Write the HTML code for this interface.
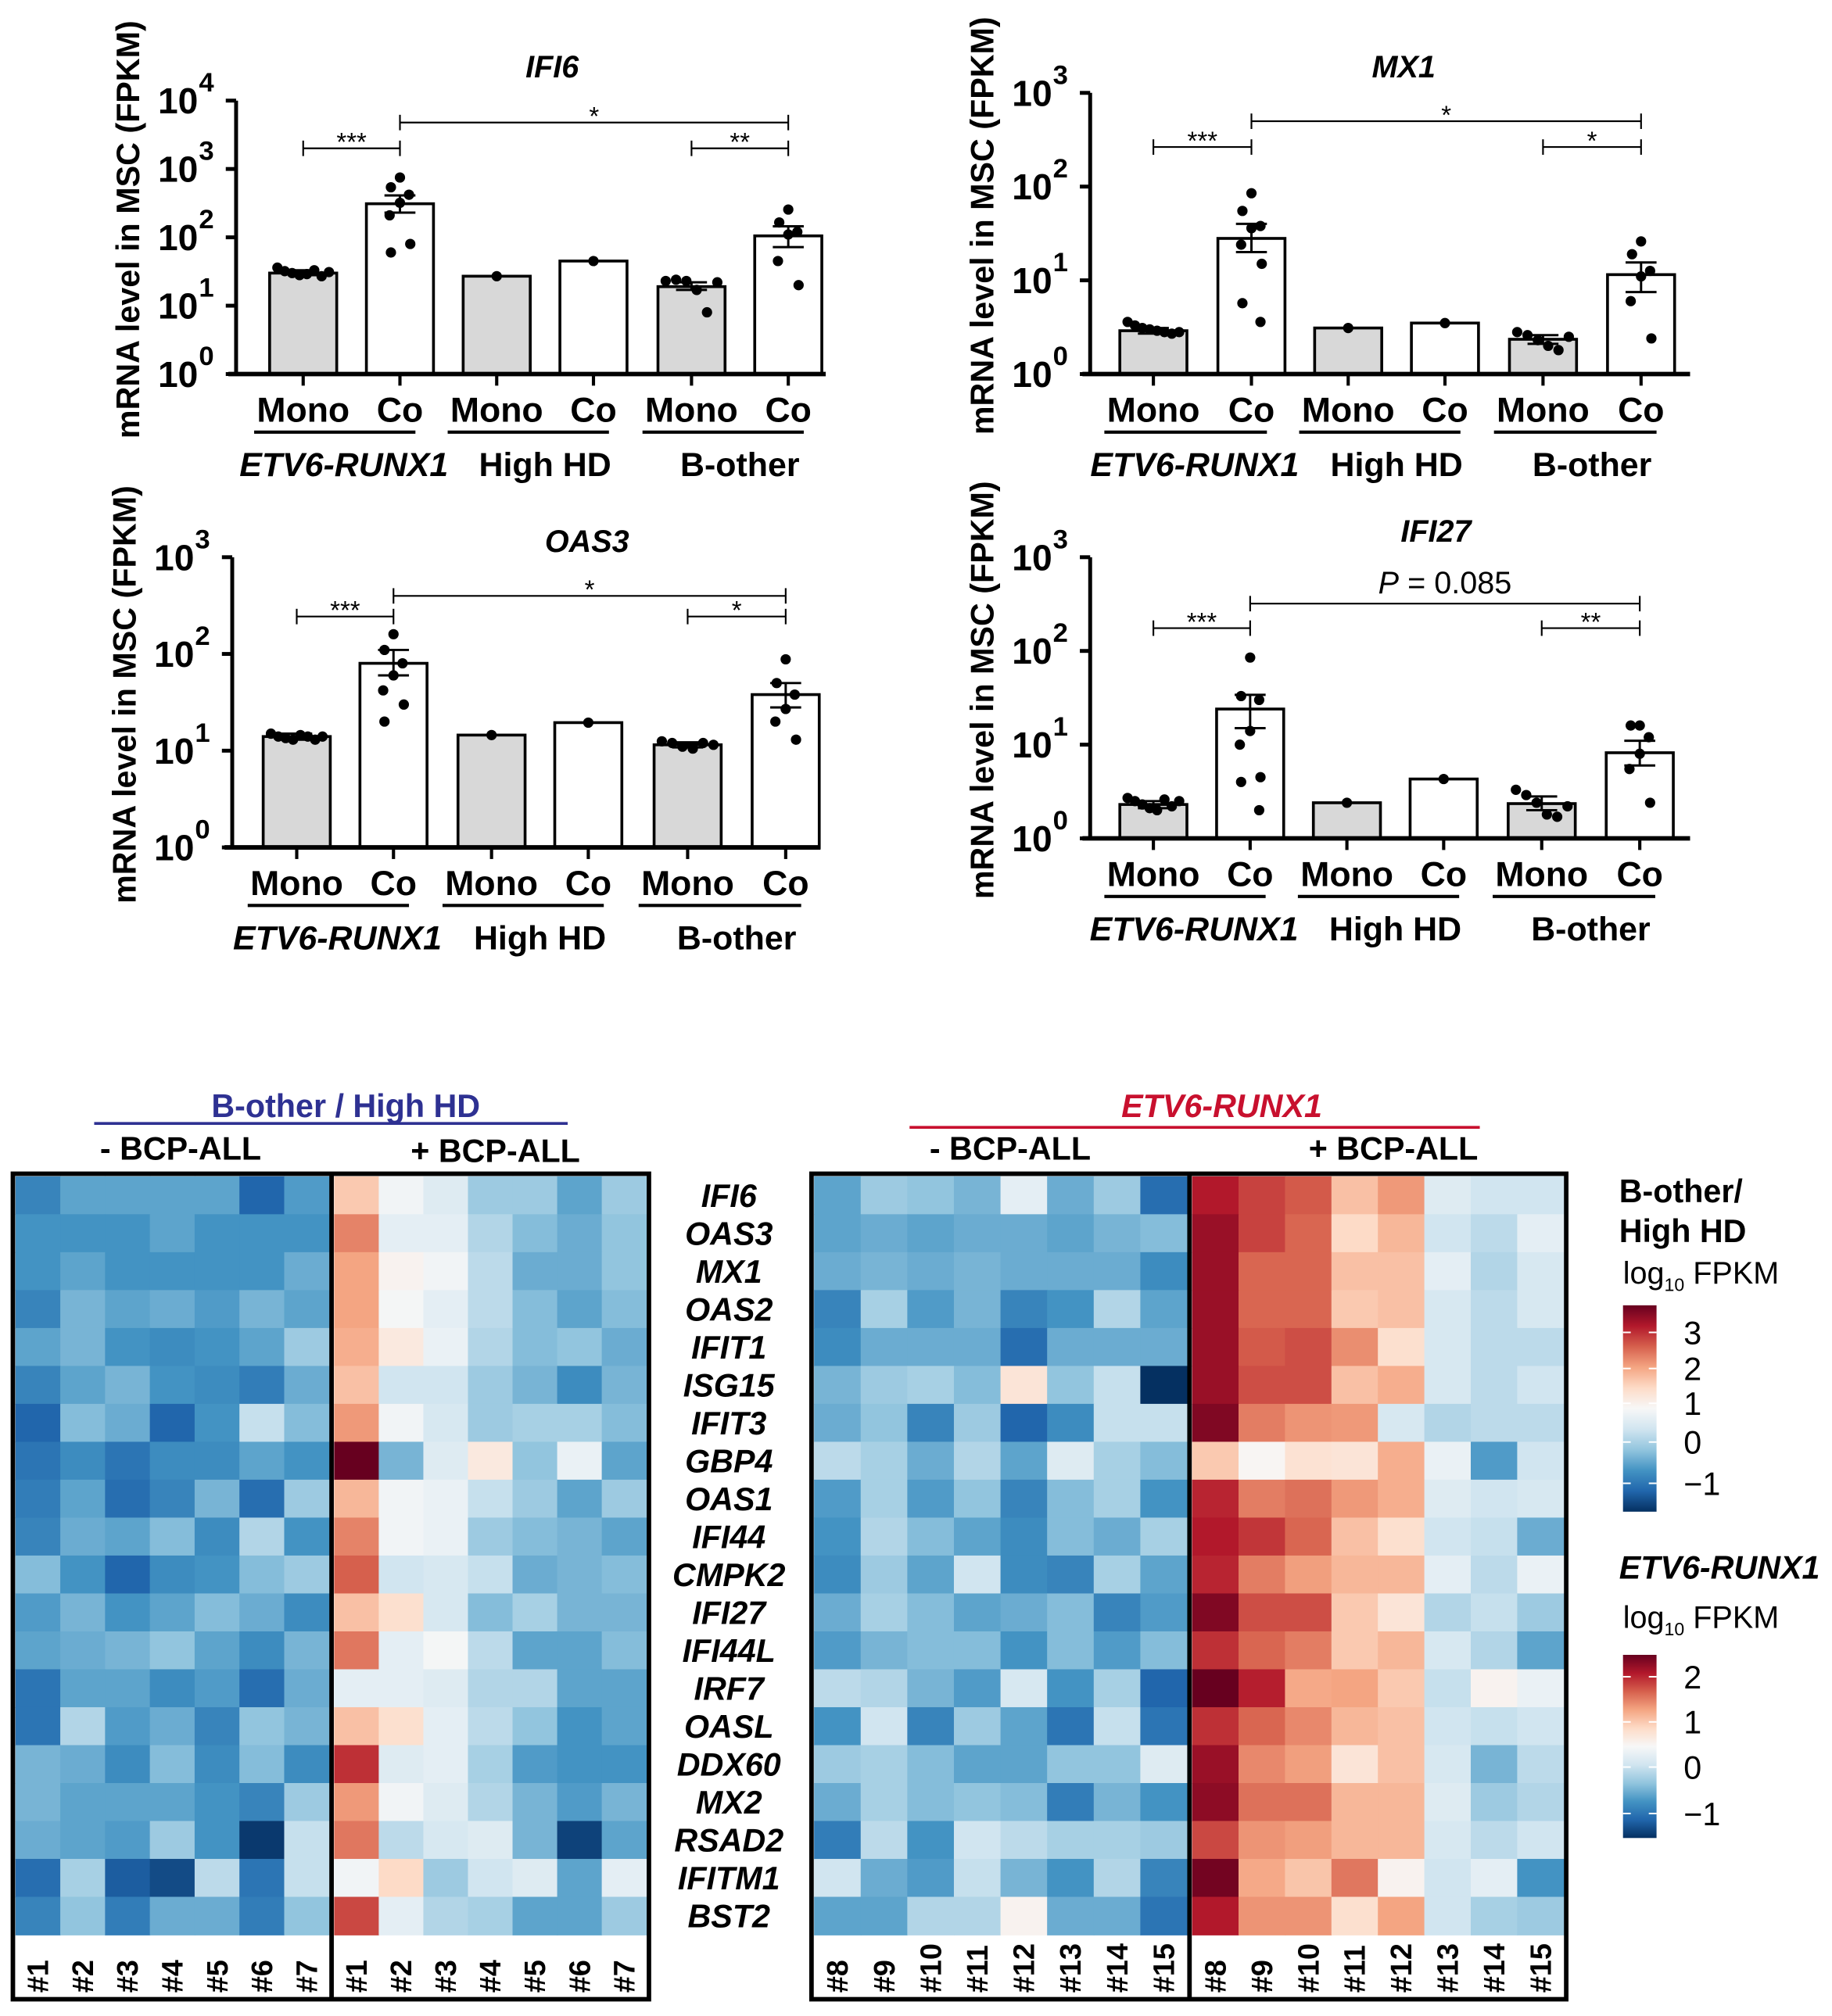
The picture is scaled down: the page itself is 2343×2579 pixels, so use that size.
<!DOCTYPE html>
<html><head><meta charset="utf-8"><style>
html,body{margin:0;padding:0;background:#fff}
svg{display:block}
text{font-family:"Liberation Sans",sans-serif}
</style></head><body>
<svg id="fig" width="2343" height="2579" viewBox="0 0 1420 1563" preserveAspectRatio="none" xmlns="http://www.w3.org/2000/svg"></svg>
<script>
// ---------- bar chart data ----------
const groups = ["Mono","Co","Mono","Co","Mono","Co"];
const groupLabels = ["ETV6-RUNX1","High HD","B-other"];
const ifi6Bars = [30, 310, 27, 45, 19, 105];
const ifi6Err = [[28,33],[230,410],null,null,[17,22],[72,145]];
const ifi6Dots = [[36,32,30,28,29,33,27,31],[750,540,420,320,210,80,60],[27],[45],[23,24,23,17,8,22],[255,165,120,110,45,20]];
const mx1Bars = [2.9, 28, 3.1, 3.5, 2.35, 11.5];
const mx1Err = [[2.7,3.1],[20,40],null,null,[2.1,2.6],[7.5,15.5]];
const mx1Dots = [[3.6,3.3,3.1,3.0,2.9,2.8,2.7,2.8],[85,55,38,36,24,15,5.7,3.6],[3.1],[3.5],[2.8,2.6,2.3,2.0,1.8,2.5],[26,19,12.6,11,6,2.4]];
const oas3Bars = [14, 80, 14.5, 19.5, 11.5, 38];
const oas3Err = [[13,15],[60,110],null,null,[10.8,12.2],[28,50]];
const oas3Dots = [[15,14,13.5,13,14.5,14,13,14],[160,110,80,60,42,30,20],[14.5],[19.5],[12.5,12,11,10.5,12,11.5],[88,50,38,27,20,13]];
const ifi27Bars = [2.3, 24, 2.4, 4.3, 2.35, 8.2];
const ifi27Err = [[2.1,2.5],[15,34],null,null,[2.0,2.8],[6,11]];
const ifi27Dots = [[2.7,2.5,2.3,2.1,2.0,2.6,2.2,2.5],[85,33,30,14,10,4.5,4.0,2.0],[2.4],[4.3],[3.3,2.9,2.4,1.8,1.7,2.2],[16,16,12,8,5.5,2.4]];

// ---------- heatmap data ----------
const genes = ["IFI6","OAS3","MX1","OAS2","IFIT1","ISG15","IFIT3","GBP4","OAS1","IFI44","CMPK2","IFI27","IFI44L","IRF7","OASL","DDX60","MX2","RSAD2","IFITM1","BST2"];
const leftCols = ["#1","#2","#3","#4","#5","#6","#7"];
const rightCols = ["#8","#9","#10","#11","#12","#13","#14","#15"];
const hmBoMinus = [
[-2.0,-1.6,-1.6,-1.6,-1.6,-2.4,-1.7],[-1.8,-1.8,-1.8,-1.6,-1.8,-1.8,-1.8],[-1.8,-1.6,-1.8,-1.8,-1.8,-1.8,-1.5],
[-2.0,-1.4,-1.6,-1.5,-1.7,-1.4,-1.6],[-1.6,-1.4,-1.8,-1.9,-1.8,-1.6,-1.1],[-2.0,-1.6,-1.4,-1.8,-1.9,-2.1,-1.5],
[-2.4,-1.3,-1.5,-2.4,-1.8,-0.7,-1.3],[-2.2,-1.9,-2.2,-1.9,-1.9,-1.6,-1.8],[-2.1,-1.6,-2.3,-2.0,-1.4,-2.3,-1.1],
[-2.0,-1.5,-1.6,-1.3,-1.9,-0.9,-1.8],[-1.3,-1.8,-2.4,-1.9,-1.8,-1.3,-1.1],[-1.7,-1.4,-1.8,-1.6,-1.3,-1.5,-1.9],
[-1.6,-1.5,-1.4,-1.2,-1.6,-1.9,-1.4],[-2.2,-1.6,-1.6,-1.9,-1.7,-2.3,-1.5],[-2.2,-0.9,-1.7,-1.5,-2.0,-1.2,-1.4],
[-1.4,-1.5,-1.9,-1.3,-1.9,-1.3,-1.9],[-1.4,-1.6,-1.6,-1.6,-1.8,-2.0,-1.1],[-1.5,-1.6,-1.7,-1.1,-1.8,-2.9,-0.7],
[-2.3,-1.0,-2.5,-2.7,-0.8,-2.2,-0.7],[-2.0,-1.2,-2.1,-1.5,-1.5,-2.1,-1.2]];
const hmBoPlus = [
[0.8,-0.1,-0.4,-1.1,-1.1,-1.6,-1.1],[1.5,-0.3,-0.3,-0.9,-1.3,-1.5,-1.2],[1.2,0.1,-0.1,-0.8,-1.5,-1.5,-1.2],
[1.2,-0.05,-0.3,-0.8,-1.3,-1.6,-1.3],[1.1,0.3,-0.2,-0.9,-1.3,-1.2,-1.5],[0.9,-0.6,-0.6,-1.1,-1.4,-1.9,-1.4],
[1.3,-0.1,-0.5,-1.1,-1.0,-1.0,-1.3],[3.0,-1.4,-0.4,0.3,-1.2,-0.2,-1.6],[1.0,-0.1,-0.2,-0.7,-1.1,-1.6,-1.1],
[1.5,-0.1,-0.2,-1.1,-1.3,-1.4,-1.6],[1.8,-0.6,-0.5,-0.7,-1.5,-1.4,-1.3],[0.9,0.5,-0.5,-1.3,-1.0,-1.4,-1.4],
[1.6,-0.3,-0.05,-0.8,-1.6,-1.6,-1.3],[-0.3,-0.3,-0.4,-0.9,-0.9,-1.6,-1.6],[0.9,0.5,-0.3,-0.8,-1.2,-1.8,-1.6],
[2.2,-0.4,-0.3,-1.0,-1.7,-1.8,-1.8],[1.3,-0.1,-0.4,-0.9,-1.4,-1.7,-1.4],[1.6,-0.8,-0.5,-0.4,-1.4,-2.8,-1.6],
[-0.1,0.6,-1.1,-0.6,-0.4,-1.6,-0.3],[2.0,-0.3,-0.9,-1.0,-1.6,-1.6,-1.1]];
const hmErMinus = [
[-1.6,-1.1,-1.2,-1.4,-0.3,-1.5,-1.1,-2.3],[-1.6,-1.5,-1.6,-1.5,-1.5,-1.6,-1.4,-1.3],[-1.5,-1.4,-1.5,-1.4,-1.5,-1.5,-1.5,-1.9],
[-2.0,-1.0,-1.7,-1.4,-2.0,-1.8,-0.9,-1.6],[-1.9,-1.5,-1.5,-1.5,-2.3,-1.5,-1.5,-1.5],[-1.4,-1.1,-1.0,-1.3,0.4,-1.2,-0.7,-3.0],
[-1.5,-1.2,-2.0,-1.1,-2.4,-1.9,-0.7,-0.7],[-0.8,-1.0,-1.5,-0.9,-1.6,-0.4,-1.0,-1.3],[-1.7,-1.0,-1.7,-1.2,-2.0,-1.3,-1.0,-1.8],
[-1.8,-0.9,-1.3,-1.6,-1.9,-1.3,-1.5,-1.0],[-1.9,-1.1,-1.6,-0.6,-1.9,-2.0,-1.0,-1.6],[-1.5,-1.0,-1.3,-1.6,-1.5,-1.3,-2.0,-1.7],
[-1.7,-1.4,-1.3,-1.3,-1.8,-1.3,-1.7,-1.3],[-0.8,-0.9,-1.4,-1.7,-0.5,-1.8,-1.0,-2.4],[-1.8,-0.6,-2.0,-1.1,-1.6,-2.2,-0.7,-2.2],
[-1.1,-1.0,-1.3,-1.6,-1.6,-1.2,-1.2,-0.4],[-1.5,-1.0,-1.3,-1.2,-1.3,-2.1,-1.4,-1.8],[-2.1,-0.8,-1.8,-0.6,-0.8,-1.0,-1.0,-1.1],
[-0.6,-1.5,-1.7,-0.7,-1.4,-1.8,-0.9,-2.0],[-1.6,-1.6,-0.9,-0.9,0.1,-1.5,-1.5,-2.2]];
const hmErPlus = [
[2.4,2.3,2.1,0.9,1.3,-0.4,-0.6,-0.6],[2.6,2.3,2.0,0.6,1.0,-0.6,-0.8,-0.3],[2.6,2.0,2.0,0.9,0.9,-0.3,-0.9,-0.5],
[2.6,2.0,2.0,0.8,0.9,-0.5,-0.8,-0.5],[2.6,2.1,2.2,1.4,0.5,-0.5,-0.8,-0.8],[2.6,2.2,2.2,0.9,1.1,-0.5,-0.8,-0.6],
[2.8,1.8,1.6,1.3,-0.5,-0.9,-0.8,-0.8],[0.8,0.3,0.7,0.4,1.1,-0.2,-1.7,-0.6],[2.3,1.8,1.9,1.3,1.1,-0.4,-0.6,-0.5],
[2.4,2.4,2.0,0.9,0.5,-0.6,-0.7,-1.5],[2.3,1.8,1.5,1.0,1.0,-0.3,-0.8,-0.2],[2.8,2.2,2.2,0.8,0.4,-0.9,-0.7,-1.1],
[2.2,2.0,1.8,0.8,1.0,-0.5,-0.9,-1.6],[3.0,2.6,1.4,1.2,0.8,-0.7,0.1,-0.2],[2.2,2.0,1.7,1.0,0.9,-0.6,-0.7,-0.6],
[2.6,1.7,1.5,0.4,0.9,-0.5,-1.4,-0.8],[2.7,1.9,1.9,1.0,1.0,-0.4,-1.1,-0.9],[2.0,1.6,1.5,1.0,1.0,-0.5,-0.8,-0.6],
[2.9,1.4,1.1,1.6,0.1,-0.6,-0.3,-1.8],[2.4,1.6,1.6,0.5,1.2,-0.6,-1.0,-1.1]];
const legend1Ticks = ["3","2","1","0","\u22121"];
const legend2Ticks = ["2","1","0","\u22121"];

const NS = "http://www.w3.org/2000/svg";
const svg = document.getElementById('fig');
function el(tag, attrs, parent, txt){
  const e = document.createElementNS(NS, tag);
  for (const k in attrs) e.setAttribute(k, attrs[k]);
  if (txt !== undefined) e.textContent = txt;
  (parent || svg).appendChild(e);
  return e;
}

function barChart(o){
  const g = el('g', {});
  
  
  const decPx = (o.y0 - o.yTop) / o.decades;
  const y = v => o.y0 - Math.log10(v) * decPx;
  const xs = o.xs;
  const t = el('text', {x:o.titleX, y:o.titleY, 'font-size':24, 'font-weight':'bold', 'font-style':'italic', 'text-anchor':'middle'}, g, o.title);
  
  
  const yt = el('text', {x:0, y:0, 'font-size':25, 'font-weight':'bold', 'text-anchor':'middle', transform:`translate(${o.axX-75},${(o.y0+o.yTop)/2 - 6}) rotate(-90)`}, g, 'mRNA level in MSC (FPKM)');
  
  
  for (let i = 0; i < 6; i++){
    const top = y(o.bars[i]);
    const b = el('rect', {x:xs[i]-26, y:top, width:52, height:o.y0-top, fill: i%2===0 ? '#d8d8d8' : '#fff', stroke:'#000', 'stroke-width':2.2}, g);
    
    
    const e = o.err[i];
    if (e){
      el('line', {x1:xs[i], x2:xs[i], y1:y(e[0]), y2:y(e[1]), stroke:'#000', 'stroke-width':1.8}, g);
      el('line', {x1:xs[i]-12, x2:xs[i]+12, y1:y(e[0]), y2:y(e[0]), stroke:'#000', 'stroke-width':1.8}, g);
      el('line', {x1:xs[i]-12, x2:xs[i]+12, y1:y(e[1]), y2:y(e[1]), stroke:'#000', 'stroke-width':1.8}, g);
    }
    const d = o.dots[i];
    d.forEach((v, k) => {
      let off = 0;
      if (d.length > 1){
        if (i % 2 === 0) off = (k - (d.length-1)/2) * (40/(d.length-1));
        else off = [0,-7,7,0,-8,8,-7,7][k % 8];
      }
      const c = el('circle', {cx:xs[i]+off, cy:y(v), r:4, fill:'#000'}, g);
      
      
    });
  }
  el('line', {x1:o.axX, x2:o.axX, y1:o.yTop, y2:o.y0, stroke:'#000', 'stroke-width':3}, g);
  el('line', {x1:o.axX-6, x2:o.xEnd, y1:o.y0, y2:o.y0, stroke:'#000', 'stroke-width':3.5}, g);
  for (let d = 0; d <= o.decades; d++){
    const yy = o.y0 - d*decPx;
    el('line', {x1:o.axX-8, x2:o.axX, y1:yy, y2:yy, stroke:'#000', 'stroke-width':3}, g);
    const tl = el('text', {x:o.axX-45, y:yy+10, 'font-size':28, 'font-weight':'bold', 'text-anchor':'middle'}, g, '10');
    
    
    el('text', {x:o.axX-23, y:yy-7, 'font-size':21, 'font-weight':'bold', 'text-anchor':'middle'}, g, String(d));
  }
  for (let i = 0; i < 6; i++){
    el('line', {x1:xs[i], x2:xs[i], y1:o.y0, y2:o.y0+9, stroke:'#000', 'stroke-width':2.5}, g);
    const cl = el('text', {x:xs[i], y:o.y0+37, 'font-size':27, 'font-weight':'bold', 'text-anchor':'middle'}, g, groups[i]);
    
    
  }
  for (let k = 0; k < 3; k++){
    const x1 = xs[2*k]-38, x2 = xs[2*k+1]+12;
    el('line', {x1:x1, x2:x2, y1:o.y0+45, y2:o.y0+45, stroke:'#000', 'stroke-width':2.5}, g);
    const gl = el('text', {x:(xs[2*k]+xs[2*k+1])/2 + (k===0?-6:0), y:o.y0+79, 'font-size':26, 'font-weight':'bold', 'font-style': k===0?'italic':'normal', 'text-anchor':'middle'}, g, groupLabels[k]);
    
    
  }
  o.sig.forEach(s => {
    const xa = xs[s[0]], xb = xs[s[1]], yy = s[2];
    el('line', {x1:xa, x2:xb, y1:yy, y2:yy, stroke:'#000', 'stroke-width':1.3}, g);
    el('line', {x1:xa, x2:xa, y1:yy-6, y2:yy+6, stroke:'#000', 'stroke-width':1.3}, g);
    el('line', {x1:xb, x2:xb, y1:yy-6, y2:yy+6, stroke:'#000', 'stroke-width':1.3}, g);
    const st = el('text', {x:(xa+xb)/2, y:yy-4 + (s[3][0]==='P'?-4:6), 'font-size': s[3][0]==='P'?24:20, 'text-anchor':'middle'}, g, s[3]);
    
    
  });
}

barChart({name:'ifi6-chart', title:'IFI6', titleX:428, titleY:60, axX:183, y0:290, yTop:78, decades:4, xEnd:640,
  xs:[235,310,385,460,536,611], bars:ifi6Bars, err:ifi6Err, dots:ifi6Dots,
  sig:[[1,5,95,'*'],[0,1,115,'***'],[4,5,115,'**']]});
barChart({name:'mx1-chart', title:'MX1', titleX:1088, titleY:60, axX:845, y0:290, yTop:72, decades:3, xEnd:1310,
  xs:[894,970,1045,1120,1196,1272], bars:mx1Bars, err:mx1Err, dots:mx1Dots,
  sig:[[1,5,94,'*'],[0,1,114,'***'],[4,5,114,'*']]});
barChart({name:'oas3-chart', title:'OAS3', titleX:455, titleY:428, axX:180, y0:657, yTop:432, decades:3, xEnd:636,
  xs:[230,305,381,456,533,609], bars:oas3Bars, err:oas3Err, dots:oas3Dots,
  sig:[[1,5,462,'*'],[0,1,478,'***'],[4,5,478,'*']]});
barChart({name:'ifi27-chart', title:'IFI27', titleX:1113, titleY:420, axX:845, y0:650, yTop:432, decades:3, xEnd:1310,
  xs:[894,969,1044,1119,1195,1271], bars:ifi27Bars, err:ifi27Err, dots:ifi27Dots,
  sig:[[1,5,468,'P = 0.085'],[0,1,487,'***'],[4,5,487,'**']]});
svg.querySelectorAll('text').forEach(t => { if (t.textContent === 'P = 0.085'){ t.textContent=''; el('tspan', {'font-style':'italic'}, t, 'P'); el('tspan', {}, t, ' = 0.085'); } });

// ---------- heatmap ----------
const stops = ['#053061','#2166ac','#4393c3','#92c5de','#d1e5f0','#f7f7f7','#fddbc7','#f4a582','#d6604d','#b2182b','#67001f'];
function hex(h){return [1,3,5].map(i=>parseInt(h.substr(i,2),16));}
function color(v){
  let t = (Math.max(-3, Math.min(3, v)) + 3) / 0.6;
  const i = Math.min(9, Math.floor(t)), f = t - i;
  const a = hex(stops[i]), b = hex(stops[i+1]);
  return 'rgb(' + a.map((c,k)=>Math.round(c+(b[k]-c)*f)).join(',') + ')';
}
const rowTop = 912, rowH = 29.4, boxBottom = 1550;
function block(x0, x1, data, cols, name, redAdj){
  const g = el('g', {});
  
  
  const cw = (x1 - x0) / cols.length;
  data.forEach((row, r) => row.forEach((v, c) => {
    const vv = (redAdj && (c === 1 || c === 2)) ? v - 0.25 : v;
    const cell = el('rect', {x:x0 + c*cw, y:rowTop + r*rowH, width:cw+0.5, height:rowH+0.5, fill:color(vv)}, g);
    
    
  }));
  cols.forEach((lab, c) => {
    const cx = x0 + (c+0.5)*cw;
    const tl = el('text', {x:0, y:0, 'font-size':23, 'font-weight':'bold', transform:`translate(${cx+8},${boxBottom-5}) rotate(-90)`}, g, lab);
    
    
  });
}
block(12, 255, hmBoMinus, leftCols, 'heatmap-bother-minus');
block(259, 501, hmBoPlus, leftCols, 'heatmap-bother-plus');
block(631, 920, hmErMinus, rightCols, 'heatmap-etv-minus');
block(924, 1212, hmErPlus, rightCols, 'heatmap-etv-plus', true);
[[10,503,257],[629,1214,922]].forEach(b => {
  el('rect', {x:b[0], y:rowTop-2, width:b[1]-b[0], height:boxBottom-rowTop+2, fill:'none', stroke:'#000', 'stroke-width':3.5});
  el('line', {x1:b[2], x2:b[2], y1:rowTop-2, y2:boxBottom, stroke:'#000', 'stroke-width':3.5});
});
genes.forEach((gname, r) => {
  const t = el('text', {x:565, y:rowTop + (r+0.5)*rowH + 9, 'font-size':25, 'font-weight':'bold', 'font-style':'italic', 'text-anchor':'middle'}, svg, gname);
  
  
});
function hdr(x, y, txt, attrs, name){
  const t = el('text', Object.assign({x:x, y:y, 'font-size':25, 'font-weight':'bold', 'text-anchor':'middle'}, attrs), svg, txt);
  
  
}
hdr(268, 866, 'B-other / High HD', {fill:'#2e3192'}, 'bother-highhd-header');
el('line', {x1:73, x2:440, y1:871, y2:871, stroke:'#2e3192', 'stroke-width':2.2});
hdr(140, 899, '- BCP-ALL', {}, 'minus-bcp-header-left');
hdr(384, 901, '+ BCP-ALL', {}, 'plus-bcp-header-left');
hdr(947, 866, 'ETV6-RUNX1', {fill:'#c8102e', 'font-style':'italic'}, 'etv6-runx1-header');
el('line', {x1:705, x2:1147, y1:874, y2:874, stroke:'#c8102e', 'stroke-width':2.2});
hdr(783, 899, '- BCP-ALL', {}, 'minus-bcp-header-right');
hdr(1080, 899, '+ BCP-ALL', {}, 'plus-bcp-header-right');

// ---------- colour legends ----------
const defs = el('defs', {});
const gr = el('linearGradient', {id:'rdbu', x1:0, y1:1, x2:0, y2:0}, defs);
stops.forEach((s, i) => el('stop', {offset:(i/10), 'stop-color':s}, gr));
function legend(y, titleLines, top, bot, ticks, tickYs, name){
  const g = el('g', {});
  
  
  titleLines.forEach(l => {
    el('text', {x:1255, y:l[1], 'font-size':25, 'font-weight':'bold', 'font-style':l[2]?'italic':'normal'}, g, l[0]);
  });
  const lg = el('text', {x:1258, y:y, 'font-size':24}, g);
  el('tspan', {}, lg, 'log');
  el('tspan', {'font-size':14, dy:6}, lg, '10');
  el('tspan', {dy:-6}, lg, ' FPKM');
  el('rect', {x:1258, y:top, width:26, height:bot-top, fill:'url(#rdbu)'}, g);
  ticks.forEach((tk, i) => {
    el('line', {x1:1278, x2:1284, y1:tickYs[i], y2:tickYs[i], stroke:'#fff', 'stroke-width':1.2}, g);
    el('line', {x1:1258, x2:1264, y1:tickYs[i], y2:tickYs[i], stroke:'#fff', 'stroke-width':1.2}, g);
    el('text', {x:1305, y:tickYs[i]+9, 'font-size':25}, g, tk);
  });
}
legend(995, [['B-other/',932],['High HD',963]], 1012, 1172, legend1Ticks, [1033,1061,1088,1118,1150], 'legend-bother');
legend(1262, [['ETV6-RUNX1',1224,true]], 1283, 1425, legend2Ticks, [1300,1335,1370,1406], 'legend-etv6-runx1');
</script>
</body></html>
